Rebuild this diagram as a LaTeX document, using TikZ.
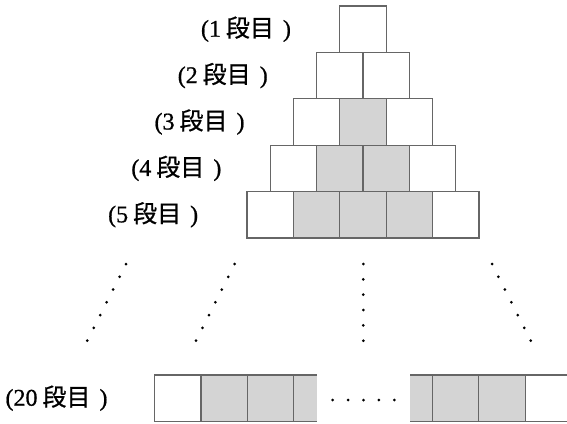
\documentclass[tikz,border=0pt]{standalone}
\usepackage{fontspec}
\setmainfont{Liberation Serif}
\newfontfamily\labelfont[FakeBold=0.8]{Liberation Serif}
\newfontfamily\cjk[FakeBold=0.8]{Noto Sans CJK JP}
\definecolor{edge}{gray}{0.4}
\definecolor{cellshade}{gray}{0.83}
\tikzset{
  cellw/.style={draw=edge, line width=1.3pt, fill=white, minimum size=46.4pt, inner sep=0pt},
  cellg/.style={cellw, fill=cellshade},
  rowlabel/.style={anchor=east, inner sep=0pt, font=\labelfont\fontsize{24}{24}\selectfont},
  dotmark/.style={fill=black, draw=none}
}
\newcommand{\rowtext}[1]{(#1\hspace{5pt}{\cjk 段目}\hspace{9pt})}
\begin{document}
\begin{tikzpicture}[x=1pt, y=-1pt]
  \useasboundingbox (0,0) rectangle (567,423);
  \def\s{46.4}
  % pyramid rows 1 to 5, centred on x = 363
  \foreach \r in {1,...,5} {
    \pgfmathsetmacro{\yc}{6 + (\r-0.5)*\s}
    \pgfmathsetmacro{\xl}{363 - \r*\s/2}
    \foreach \k in {1,...,\r} {
      \pgfmathsetmacro{\xc}{\xl + (\k-0.5)*\s}
      \ifnum\k=1
        \node[cellw] (c\r-\k) at (\xc,\yc) {};
      \else\ifnum\k=\r
        \node[cellw] (c\r-\k) at (\xc,\yc) {};
      \else
        \node[cellg] (c\r-\k) at (\xc,\yc) {};
      \fi\fi
    }
    \node[rowlabel] (lab\r) at ([xshift=-48pt]c\r-1.west) {\rowtext{\r}};
  }
  % row 20, cut open in the middle
  \def\yt{375}
  \def\yb{421.4}
  \fill[cellshade] (201,\yt) rectangle (316.7,\yb);
  \fill[cellshade] (410,\yt) rectangle (525.3,\yb);
  \draw[edge, line width=1.3pt] (316.7,\yt) -- (154.7,\yt) -- (154.7,\yb) -- (316.7,\yb);
  \draw[edge, line width=1.3pt] (410,\yt) -- (575,\yt) (410,\yb) -- (575,\yb);
  \foreach \x in {201,247.3,293.6,432.4,478.8,525.3}
    \draw[edge, line width=1.3pt] (\x,\yt) -- (\x,\yb);
  \coordinate (r20) at (154.7,398.2);
  \node[rowlabel] (lab20) at ([xshift=-47pt]r20) {\rowtext{20}};
  % dotted continuation lines
  \foreach \i in {0,...,6} {
    \fill[dotmark] (126-\i*6.45, 264+\i*12.78) circle (1.5);
    \fill[dotmark] (234.7-\i*6.45, 264+\i*12.78) circle (1.5);
    \fill[dotmark] (492+\i*6.45, 264+\i*12.78) circle (1.5);
  }
  \foreach \i in {0,...,5}
    \fill[dotmark] (363.3, 264+\i*15.34) circle (1.5);
  \foreach \i in {0,...,4}
    \fill[dotmark] (332.7+\i*15.4, 400) circle (1.5);
\end{tikzpicture}
\end{document}
